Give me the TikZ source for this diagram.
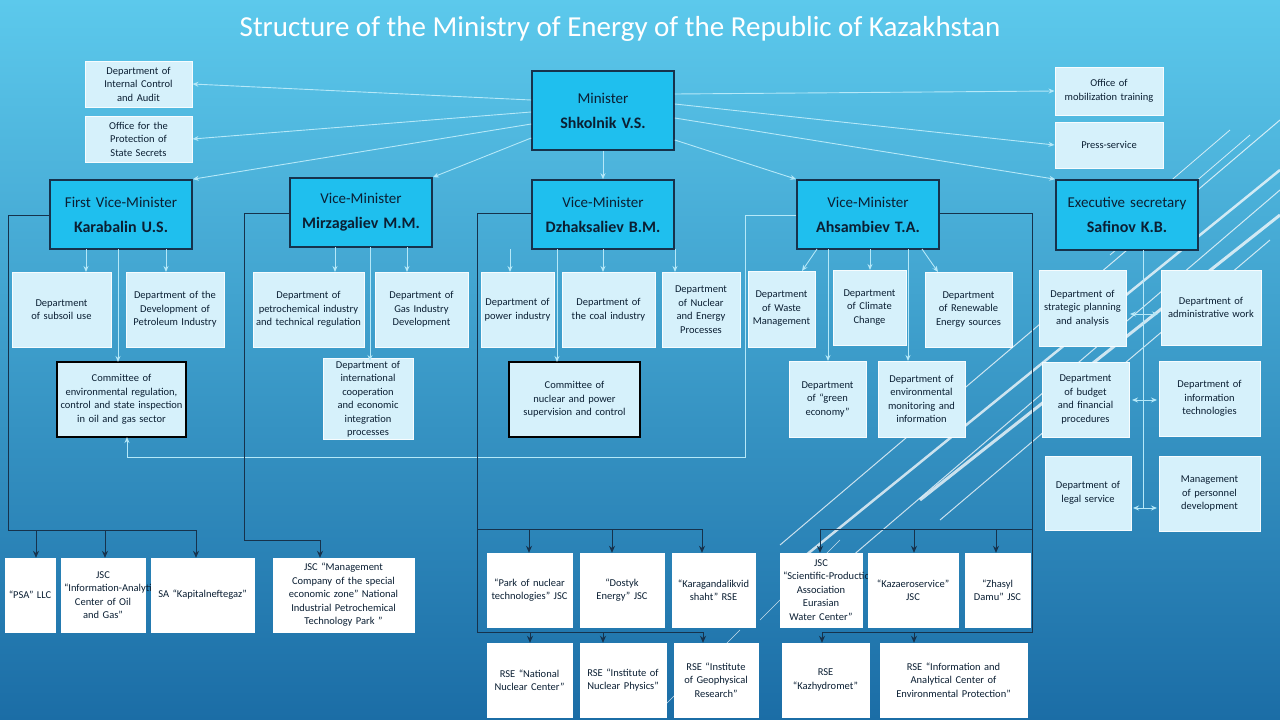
\documentclass[tikz,border=0pt]{standalone}
\usepackage{fontspec}
\setmainfont{Carlito}
\usetikzlibrary{arrows.meta}
\hyphenpenalty=10000
\exhyphenpenalty=10000
\definecolor{bgtop}{HTML}{5CC9EC}
\definecolor{bgbot}{HTML}{1B6DA6}
\definecolor{boss}{HTML}{1FBFEE}
\definecolor{dept}{HTML}{D6F1FB}
\definecolor{lline}{HTML}{B5E8F8}
\definecolor{dline}{HTML}{16324C}
\definecolor{txt}{HTML}{0B1F33}
\tikzset{
 bossbox/.style={draw=dline,line width=1.6pt,fill=boss,text=txt,font=\fontsize{15}{19}\selectfont},
 deptbox/.style={draw=white!80!dept,line width=1pt,fill=dept,text=txt,font=\fontsize{10.5}{13.5}\selectfont},
 combox/.style={draw=black,line width=1.8pt,fill=dept,text=txt,font=\fontsize{10.5}{13.5}\selectfont},
 subbox/.style={draw=white,fill=white,text=txt,font=\fontsize{10.5}{13.5}\selectfont},
 larr/.style={draw=lline,line width=0.9pt,-{Stealth[length=6pt,width=5pt]}},
 lln/.style={draw=lline,line width=0.9pt},
 darr/.style={draw=dline,line width=0.9pt,-{Stealth[length=7pt,width=6pt]}},
 dln/.style={draw=dline,line width=0.9pt},
 dbl/.style={draw=lline,line width=0.9pt,{Stealth[length=6pt,width=5pt]}-{Stealth[length=6pt,width=5pt]}},
 deco/.style={draw=white,line width=#1,opacity=0.75}
}
\newcommand\bx[7]{\pgfmathsetmacro\bw{#5-#3}\pgfmathsetmacro\bh{#6-#4}\pgfmathsetmacro\tw{#5-#3-6}%
\node[#2,inner sep=2pt,minimum width=\bw pt,minimum height=\bh pt,text width=\tw pt,align=center] (#1) at ({(#3+#5)/2},{(#4+#6)/2}) {#7};}
\newcommand\nm[1]{\\[6pt]{\fontsize{16}{19}\selectfont\bfseries #1}}
\begin{document}
\begin{tikzpicture}[x=1pt,y=-1pt]
\shade[top color=bgtop,bottom color=bgbot] (0,0) rectangle (1280,720);
\useasboundingbox (0,0) rectangle (1280,720);
% decorative lines
\draw[deco=1pt] (1280,120) -- (780,545);
\draw[deco=0.8pt] (1230,130) -- (1090,250);
\draw[deco=0.8pt] (1250,135) -- (1110,255);
\draw[deco=2.5pt] (1280,170) -- (800,560);
\draw[deco=1pt] (1280,190) -- (830,575);
\draw[deco=3pt] (1280,215) -- (920,500);
\draw[deco=1pt] (1270,240) -- (940,520);
\draw[deco=0.6pt] (760,620) -- (840,540);
\draw[deco=0.6pt] (660,710) -- (740,630);
\node[text=white,font=\fontsize{29}{33}\selectfont] (title) at (620,29) {Structure of the Ministry of Energy of the Republic of Kazakhstan};
% top
\bx{min}{bossbox}{532}{71}{674}{150}{Minister\nm{Shkolnik V.S.}}
\bx{ic}{deptbox}{85}{61}{192}{107}{Department of Internal Control and Audit}
\bx{ss}{deptbox}{85}{116}{192}{162}{Office for the Protection of State Secrets}
\bx{mob}{deptbox}{1055}{67}{1163}{115}{Office of mobilization training}
\bx{ps}{deptbox}{1055}{122}{1163}{168}{Press-service}
\bx{fvm}{bossbox}{50}{180}{192}{249}{First Vice-Minister\nm{Karabalin U.S.}}
\bx{mir}{bossbox}{290}{178}{432}{247}{Vice-Minister\nm{Mirzagaliev M.M.}}
\bx{dzh}{bossbox}{532}{180}{674}{249}{Vice-Minister\nm{Dzhaksaliev B.M.}}
\bx{ahs}{bossbox}{797}{180}{939}{249}{Vice-Minister\nm{Ahsambiev T.A.}}
\bx{ex}{bossbox}{1056}{180}{1198}{250}{Executive secretary\nm{Safinov K.B.}}
% departments
\bx{sub}{deptbox}{12}{272}{111}{347}{Department of subsoil use}
\bx{pet}{deptbox}{126}{272}{224}{347}{Department of the Development of Petroleum Industry}
\bx{pch}{deptbox}{253}{272}{364}{347}{\raggedright Department of petrochemical industry and technical regulation}
\bx{gas}{deptbox}{375}{272}{468}{347}{\raggedright Department of Gas Industry Development}
\bx{cenv}{combox}{57}{362}{186}{437}{\raggedright Committee of environmental regulation, control and state inspection in oil and gas sector}
\bx{intl}{deptbox}{323}{361}{413}{437}{Department of international cooperation and economic integration processes}
\bx{pow}{deptbox}{481}{272}{554}{347}{Department of power industry}
\bx{coal}{deptbox}{562}{272}{655}{347}{Department of the coal industry}
\bx{nuc}{deptbox}{662}{272}{740}{347}{Department of Nuclear and Energy Processes}
\bx{cnuc}{combox}{509}{362}{640}{437}{Committee of nuclear and power supervision and control}
\bx{wst}{deptbox}{748}{271}{815}{347}{Department of Waste Management}
\bx{clim}{deptbox}{833}{270}{906}{345}{Department of Climate Change}
\bx{ren}{deptbox}{925}{272}{1012}{347}{Department of Renewable Energy sources}
\bx{grn}{deptbox}{789}{361}{866}{437}{Department of ``green economy''}
\bx{envm}{deptbox}{878}{361}{965}{437}{Department of environmental monitoring and information}
\bx{str}{deptbox}{1039}{270}{1126}{346}{Department of strategic planning and analysis}
\bx{adm}{deptbox}{1161}{270}{1261}{345}{Department of administrative work}
\bx{bud}{deptbox}{1042}{362}{1129}{437}{Department of budget and financial procedures}
\bx{it}{deptbox}{1159}{361}{1260}{436}{Department of information technologies}
\bx{leg}{deptbox}{1045}{456}{1131}{530}{Department of legal service}
\bx{per}{deptbox}{1159}{456}{1260}{531}{Management of personnel development}
% subordinate organisations
\bx{psa}{subbox}{5}{558}{55}{632}{``PSA'' LLC}
\bx{jia}{subbox}{61}{558}{145}{632}{JSC ``Information-Analytical Center of Oil and Gas''}
\bx{kap}{subbox}{151}{558}{254}{632}{SA ``Kapitalneftegaz''}
\bx{mgc}{subbox}{273}{558}{414}{632}{JSC ``Management Company of the special economic zone'' National Industrial Petrochemical Technology Park ''}
\bx{park}{subbox}{487}{553}{572}{627}{``Park of nuclear technologies'' JSC}
\bx{dost}{subbox}{580}{553}{664}{627}{``Dostyk Energy'' JSC}
\bx{kar}{subbox}{672}{553}{755}{627}{``Karagandalikvid shaht'' RSE}
\bx{nnc}{subbox}{487}{643}{572}{717}{RSE ``National Nuclear Center''}
\bx{inp}{subbox}{580}{643}{666}{717}{RSE ``Institute of Nuclear Physics''}
\bx{igr}{subbox}{674}{643}{758}{717}{RSE ``Institute of Geophysical Research''}
\bx{spa}{subbox}{780}{553}{862}{627}{JSC ``Scientific-Production Association Eurasian Water Center''}
\bx{kaz}{subbox}{868}{553}{958}{627}{``Kazaeroservice'' JSC}
\bx{zh}{subbox}{965}{553}{1030}{627}{``Zhasyl Damu'' JSC}
\bx{khm}{subbox}{782}{643}{869}{717}{RSE ``Kazhydromet''}
\bx{iac}{subbox}{880}{643}{1027}{717}{RSE ``Information and Analytical Center of Environmental Protection''}
% minister connectors
\draw[larr] (min.west|-0,100) -- (ic.east);
\draw[larr] (min.west|-0,112) -- (ss.east);
\draw[larr] (min.west|-0,124) -- (fvm.north east);
\draw[larr] (min.west|-0,138) -- (mir.north east);
\draw[larr] (min.south) -- (dzh.north);
\draw[larr] (min.east|-0,140) -- (ahs.north west);
\draw[larr] (min.east|-0,94) -- (mob.west);
\draw[larr] (min.east|-0,104) -- (ps.west);
\draw[larr] (min.east|-0,118) -- (ex.north west);
% vice-minister connectors
\draw[larr] (86,249) -- (86,272);
\draw[larr] (166,249) -- (166,272);
\draw[larr] (118,249) -- (118,362);
\draw[larr] (335,247) -- (335,272);
\draw[larr] (407,247) -- (407,272);
\draw[larr] (370,247) -- (370,361);
\draw[larr] (510,249) -- (510,272);
\draw[larr] (603,249) -- (603,272);
\draw[larr] (675,249) -- (675,272);
\draw[larr] (557,249) -- (557,362);
\draw[larr] (817,249) -- (802,271);
\draw[larr] (870,249) -- (870,270);
\draw[larr] (922,249) -- (938,272);
\draw[larr] (828,249) -- (828,361);
\draw[larr] (908,249) -- (908,361);
% loop to environmental committee
\draw[larr] (ahs.west|-0,215) -- (745,215) -- (745,457) -- (127,457) -- (127,437);
% executive secretary
\draw[lln] (1143,250) -- (1143,508);
\draw[dbl] (1130,314) -- (1158,314);
\draw[dbl] (1132,400) -- (1157,400);
\draw[dbl] (1133,508) -- (1157,508);
% dark lines to organisations
\draw[dln] (fvm.west|-0,215) -- (8,215) -- (8,530) -- (196,530);
\draw[darr] (36,530) -- (psa.north-|36,0);
\draw[darr] (105,530) -- (jia.north-|105,0);
\draw[darr] (196,530) -- (kap.north-|196,0);
\draw[dln] (mir.west|-0,213) -- (244,213) -- (244,540) -- (320,540);
\draw[darr] (320,540) -- (mgc.north-|320,0);
\draw[dln] (dzh.west|-0,213) -- (477,213) -- (477,632) -- (703,632);
\draw[dln] (477,529) -- (702,529);
\draw[darr] (529,529) -- (park.north-|529,0);
\draw[darr] (612,529) -- (dost.north-|612,0);
\draw[darr] (702,529) -- (kar.north-|702,0);
\draw[darr] (530,632) -- (nnc.north-|530,0);
\draw[darr] (603,632) -- (inp.north-|603,0);
\draw[darr] (703,632) -- (igr.north-|703,0);
\draw[dln] (ahs.east|-0,213) -- (1032,213) -- (1032,632) -- (822,632);
\draw[dln] (1032,529) -- (820,529);
\draw[darr] (820,529) -- (spa.north-|820,0);
\draw[darr] (914,529) -- (kaz.north-|914,0);
\draw[darr] (996,529) -- (zh.north-|996,0);
\draw[darr] (822,632) -- (khm.north-|822,0);
\draw[darr] (914,632) -- (iac.north-|914,0);
\end{tikzpicture}
\end{document}
